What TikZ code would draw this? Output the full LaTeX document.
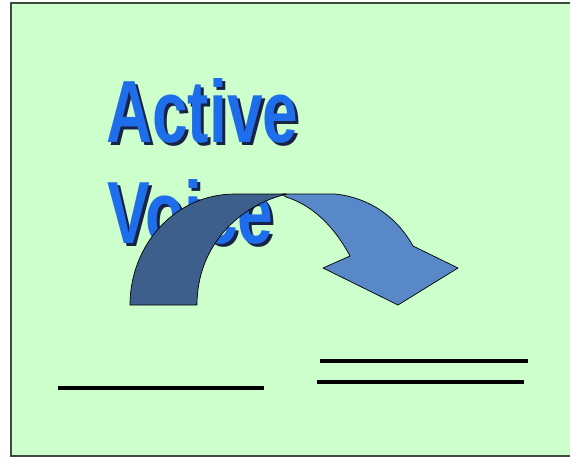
\documentclass[tikz,border=0pt]{standalone}
\usepackage{fontspec}
\setmainfont{Liberation Sans}
\definecolor{bgg}{RGB}{204,255,204}
\definecolor{frm}{RGB}{60,75,60}
\definecolor{txtblue}{RGB}{30,110,235}
\definecolor{shad}{RGB}{25,35,70}
\definecolor{arrdark}{RGB}{60,95,140}
\definecolor{arrlight}{RGB}{88,136,200}
\tikzset{
  title/.style={font=\fontsize{64}{64}\selectfont\bfseries, yscale=1.38, transform shape, inner sep=0pt, anchor=base west, text=txtblue},
  titleshadow/.style={title, text=shad},
  arrpart/.style={draw=black, line width=0.7pt, line join=round},
  rule/.style={line width=3.6pt, black}
}
\begin{document}
\begin{tikzpicture}[x=1pt,y=-1pt]
\useasboundingbox (0,0) rectangle (570,459);
\fill[white] (0,0) rectangle (570,459);
\draw[fill=bgg, draw=frm, line width=2pt] (11,3) rectangle (575,456);
% title with shadow
\node[titleshadow] (s1) at (109,145) {Active};
\node[title] (t1) at (106,142) {Active};
\node[titleshadow] (s2) at (110,246) {Voice};
\node[title] (t2) at (107,243) {Voice};
% curved arrow
\draw[arrpart, fill=arrlight] (282,194) -- (335,194)
  .. controls (374,198) and (400,222) .. (413,246)
  -- (458,268) -- (398,305) -- (323,268) -- (350,256)
  .. controls (334,226) and (312,205) .. (286,197) -- cycle;
\draw[arrpart, fill=arrdark] (130,305)
  .. controls (130,245) and (175,194) .. (235,194)
  -- (287,194)
  .. controls (240,205) and (197,245) .. (197,305) -- cycle;
% lines
\coordinate (l1a) at (58,388); \coordinate (l1b) at (264,388);
\coordinate (l2a) at (320,361); \coordinate (l2b) at (528,361);
\coordinate (l3a) at (317,382); \coordinate (l3b) at (524,382);
\draw[rule] (l1a) -- (l1b);
\draw[rule] (l2a) -- (l2b);
\draw[rule] (l3a) -- (l3b);
\end{tikzpicture}
\end{document}
